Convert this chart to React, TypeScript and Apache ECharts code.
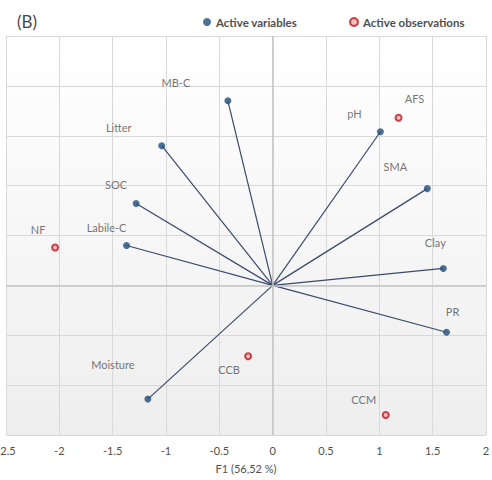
import React, { useEffect, useRef } from "react";
import * as echarts from "echarts";

const varNames = ["MB-C", "Litter", "SOC", "Labile-C", "Moisture", "pH", "SMA", "Clay", "PR"];
const varX = [-0.42, -1.04, -1.28, -1.37, -1.17, 1.01, 1.45, 1.6, 1.63];
const varY = [1.85, 1.4, 0.82, 0.4, -1.14, 1.54, 0.97, 0.17, -0.47];
const varLabelOffset = [[-52, -18], [-43, -18], [-20, -19], [-20, -18], [-35, -35], [-26, -18], [-32, -22], [-8, -26], [6, -21]];

const obsNames = ["AFS", "NF", "CCB", "CCM"];
const obsX = [1.18, -2.04, -0.23, 1.06];
const obsY = [1.68, 0.38, -0.71, -1.3];
const obsLabelOffset = [[16, -19], [-17, -18], [-19, 13], [-22, -16]];

const xTicks = { min: -2.5, max: 2, interval: 0.5 };
const yTicks = { min: -1.5, max: 2.5, interval: 0.5 };

const FONT = "Lato";
const TEXT = "#505050";

export default function App() {
  const ref = useRef<HTMLDivElement>(null);
  useEffect(() => {
    const chart = echarts.init(ref.current!, null, { renderer: "svg" });
    const labelStyle = { fontFamily: FONT, fontSize: 11, color: TEXT };
    chart.setOption({
      animation: false,
      backgroundColor: "#ffffff",
      title: {
        text: "(B)",
        left: 12,
        top: 8,
        textStyle: { fontFamily: FONT, fontSize: 17, fontWeight: "normal", color: "#4a4a4a" },
      },
      legend: {
        top: 11,
        left: 198,
        itemGap: 52,
        itemWidth: 8,
        itemHeight: 8,
        data: [
          { name: "Active variables", icon: "circle" },
          { name: "Active observations", icon: "circle" },
        ],
        textStyle: { fontFamily: FONT, fontSize: 11.5, fontWeight: "bold", color: "#505050" },
      },
      grid: {
        left: 6,
        right: 6,
        top: 36,
        bottom: 45,
        containLabel: false,
        outerBoundsMode: "none",
        show: true,
        borderWidth: 0,
        backgroundColor: new echarts.graphic.LinearGradient(0, 0, 0, 1, [
          { offset: 0, color: "#ffffff" },
          { offset: 1, color: "#eeeeee" },
        ]),
      },
      xAxis: {
        type: "value",
        ...xTicks,
        name: "F1 (56,52 %)",
        nameLocation: "middle",
        nameGap: 28,
        nameTextStyle: { fontFamily: FONT, fontSize: 11, color: TEXT },
        axisLine: { show: false },
        axisTick: { show: false },
        axisLabel: { fontFamily: FONT, fontSize: 11, color: TEXT, margin: 10 },
        splitLine: { show: true, lineStyle: { color: "#d9d9d9", width: 1 } },
      },
      yAxis: {
        type: "value",
        ...yTicks,
        axisLine: { show: false },
        axisTick: { show: false },
        axisLabel: { show: false },
        splitLine: { show: true, lineStyle: { color: "#d9d9d9", width: 1 } },
      },
      series: [
        {
          type: "lines",
          coordinateSystem: "cartesian2d",
          silent: true,
          lineStyle: { color: "#3b4a6b", width: 1.2, opacity: 1 },
          data: varX.map((x, i) => ({ coords: [[0, 0], [x, varY[i]]] })),
          markLine: {
            silent: true,
            symbol: "none",
            label: { show: false },
            lineStyle: { color: "#c4c4c4", type: "solid", width: 1.5 },
            data: [{ yAxis: 0 }, { xAxis: 0 }],
          },
          z: 2,
        },
        {
          name: "Active variables",
          type: "scatter",
          symbol: "circle",
          symbolSize: 7,
          itemStyle: { color: "#1f4e79" },
          data: varX.map((x, i) => ({
            value: [x, varY[i]],
            name: varNames[i],
            label: { show: true, position: "inside", offset: varLabelOffset[i], formatter: varNames[i], ...labelStyle },
          })),
          z: 3,
        },
        {
          name: "Active observations",
          type: "scatter",
          symbol: "circle",
          symbolSize: 6,
          itemStyle: { color: "#f3b3b3", borderColor: "#c0161c", borderWidth: 2 },
          data: obsX.map((x, i) => ({
            value: [x, obsY[i]],
            name: obsNames[i],
            label: { show: true, position: "inside", offset: obsLabelOffset[i], formatter: obsNames[i], ...labelStyle },
          })),
          z: 3,
        },
      ],
    });
    return () => chart.dispose();
  }, []);
  return <div ref={ref} style={{ width: 492, height: 480, position: "absolute", left: 0, top: 0 }} />;
}
